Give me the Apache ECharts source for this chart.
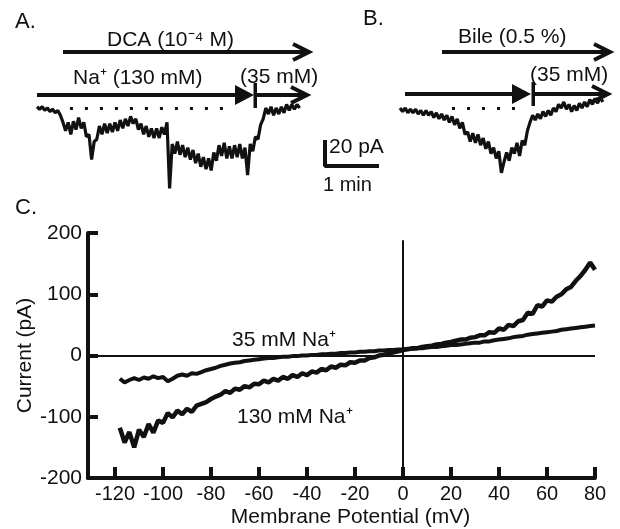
<!DOCTYPE html>
<html><head><meta charset="utf-8">
<script src="https://cdn.jsdelivr.net/npm/echarts@6/dist/echarts.min.js"></script>
<style>html,body{margin:0;padding:0;background:#fff}#c{width:620px;height:529px}</style>
</head><body><div id="c"></div>
<script>
// ---------- Panel C: I-V curves ----------
const potential = [-118,-116,-114,-112,-110,-108,-106,-104,-102,-100,-98,-96,-94,-92,-90,-88,-86,-84,-82,-80,-78,-76,-74,-72,-70,-68,-66,-64,-62,-60,-58,-56,-54,-52,-50,-48,-46,-44,-42,-40,-38,-36,-34,-32,-30,-28,-26,-24,-22,-20,-18,-16,-14,-12,-10,-8,-6,-4,-2,0,2,4,6,8,10,12,14,16,18,20,22,24,26,28,30,32,34,36,38,40,42,44,46,48,50,52,54,56,58,60,62,64,66,68,70,72,74,76,78,80];
const current130 = [-118,-142,-125,-150,-121,-133,-112,-126,-106,-110,-94,-101,-90,-96,-87,-92,-82,-79,-76,-71,-67,-64,-58,-61,-54,-56,-50,-52,-46,-47,-41,-44,-38,-41,-35,-38,-32,-35,-29,-32,-26,-28,-22,-24,-18,-20,-15,-16,-11,-12,-8,-8,-4,-3,0,1,4,5,7,9,10,12,12,14,15,16,18,19,21,22,24,26,26,29,30,33,33,38,37,44,42,50,48,56,58,70,68,82,80,90,88,96,100,108,112,122,130,140,152,140];
const current35 = [-38,-44,-40,-37,-40,-36,-38,-34,-37,-35,-42,-38,-33,-31,-33,-29,-30,-27,-24,-22,-20,-17,-15,-13,-12,-11,-9,-8,-7,-6,-5,-4,-4,-3,-2,-2,-1,-1,0,0,1,1,2,2,3,3,4,4,5,5,6,6,7,7,8,8,9,9,10,10,11,11,12,12,13,14,14,15,16,17,17,18,19,20,21,21,23,23,25,26,27,28,30,31,32,34,35,36,37,38,39,40,42,43,44,45,46,47,48,49];
const xTicks = [-120,-100,-80,-60,-40,-20,0,20,40,60,80];
const yTicks = [-200,-100,0,100,200];

// ---------- Panel A: DCA trace (time s, current pA rel. baseline) ----------
const timeA = [0,3,6,9,12,15,18,21,24,27,30,33,36,39,42,45,48,51,54,57,60,63,66,69,72,75,78,81,84,87,90,93,96,99,102,105,108,111,114,117,120,123,126,129,132,135,138,141,144,147,150,153,156,159,162,165,168,171,174,177,180,183,186,189,192,195,198,201,204,207,210,213,216,219,222,225,228,231,234,237,240,243,246,249,252,255,258,261,264,267,270,273,276,279,282,285,288,291,294,297,300,303];
const currentA = [1,-1,1,-2,0,-3,-1,-4,-2,-6,-12,-19,-12,-22,-11,-18,-8,-17,-12,-24,-22,-43,-28,-26,-15,-22,-13,-21,-13,-20,-12,-19,-10,-17,-9,-15,-7,-13,-9,-18,-13,-22,-15,-24,-17,-25,-17,-25,-16,-22,-12,-67,-30,-38,-28,-39,-31,-41,-33,-43,-35,-46,-38,-49,-41,-51,-42,-52,-37,-44,-31,-40,-29,-42,-32,-42,-31,-41,-30,-42,-33,-56,-30,-36,-24,-26,-14,-9,0,-5,1,-6,0,-5,1,-4,3,-2,3,-1,3,0];
const baselineA = [38, 226];

// ---------- Panel B: Bile trace ----------
const timeB = [0,3,6,9,12,15,18,21,24,27,30,33,36,39,42,45,48,51,54,57,60,63,66,69,72,75,78,81,84,87,90,93,96,99,102,105,108,111,114,117,120,123,126,129,132,135,138,141,144,147,150,153,156,159,162,165,168,171,174,177,180,183,186,189,192,195,198,201,204,207,210,213,216,219,222,225,228,231,234];
const currentB = [0,-3,0,-4,-1,-4,-1,-5,-2,-6,-2,-6,-3,-8,-4,-9,-5,-10,-6,-12,-7,-14,-9,-17,-12,-22,-20,-28,-21,-29,-22,-31,-25,-34,-28,-38,-33,-42,-36,-54,-45,-37,-44,-33,-38,-29,-40,-27,-31,-19,-12,-6,-10,-5,-9,-3,-7,-2,-6,0,-3,3,0,5,-1,3,-3,2,-2,4,0,5,1,7,3,8,4,9,5];
const baselineB = [60, 142];

// scale bar: 20 pA, 1 min
const scalePA = 20, scaleSec = 60;

const FONT = '"Liberation Sans", Arial, Helvetica, sans-serif';
const ink = '#111';
const chart = echarts.init(document.getElementById('c'), null, {renderer: 'canvas'});

function T(x, y, text, size) {
  return {type: 'text', x: x, y: y, silent: true,
    style: {text: text, font: size + 'px ' + FONT, fill: ink, textVerticalAlign: 'middle', verticalAlign: 'middle'}};
}
function L(x1, y1, x2, y2, w) {
  return {type: 'line', silent: true, shape: {x1, y1, x2, y2}, style: {stroke: ink, lineWidth: w || 4}};
}
function chev(pts) {
  return {type: 'polyline', silent: true, shape: {points: pts}, style: {stroke: ink, lineWidth: 4, fill: null}};
}
function tri(pts) {
  return {type: 'polygon', silent: true, shape: {points: pts}, style: {fill: ink}};
}
function R(x, y, w, h) {
  return {type: 'rect', silent: true, shape: {x, y, width: w, height: h}, style: {fill: ink}};
}

const option = {
  animation: false,
  backgroundColor: '#fff',
  grid: [
    {left: 88, right: 25, top: 233, bottom: 51},
    {left: 37, top: 96, width: 262.6, height: 96},
    {left: 400, top: 96, width: 202.8, height: 96},
    {left: 325, top: 142, width: 52, height: 24}
  ],
  xAxis: [
    {gridIndex: 0, type: 'value', min: -131.25, max: 80,
      axisLine: {onZero: false, lineStyle: {color: ink, width: 4}},
      axisTick: {inside: true, length: 11, customValues: xTicks, lineStyle: {color: ink, width: 4}},
      axisLabel: {customValues: xTicks, color: ink, fontSize: 20, fontFamily: FONT, margin: 6},
      splitLine: {show: false},
      name: 'Membrane Potential (mV)', nameLocation: 'middle', nameGap: 29, nameMoveOverlap: false,
      nameTextStyle: {color: ink, fontSize: 21, fontFamily: FONT, padding: [0, 0, 0, 18]}},
    {gridIndex: 1, type: 'value', min: 0, max: 303, show: false},
    {gridIndex: 2, type: 'value', min: 0, max: 234, show: false},
    {gridIndex: 3, type: 'value', min: 0, max: 60, show: false}
  ],
  yAxis: [
    {gridIndex: 0, type: 'value', min: -200, max: 200, interval: 100,
      axisLine: {show: true, onZero: false, lineStyle: {color: ink, width: 4}},
      axisTick: {show: true, inside: true, length: 10, lineStyle: {color: ink, width: 4}},
      axisLabel: {color: ink, fontSize: 21, fontFamily: FONT, margin: 6},
      splitLine: {show: false},
      name: 'Current (pA)', nameLocation: 'middle', nameGap: 52, nameRotate: 90, nameMoveOverlap: false,
      nameTextStyle: {color: ink, fontSize: 21, fontFamily: FONT}},
    {gridIndex: 1, type: 'value', min: -70, max: 10, show: false},
    {gridIndex: 2, type: 'value', min: -70, max: 10, show: false},
    {gridIndex: 3, type: 'value', min: 0, max: 20, show: false}
  ],
  series: [
    {type: 'line', name: '130 mM Na+', xAxisIndex: 0, yAxisIndex: 0, showSymbol: false, symbol: 'none',
      lineStyle: {color: ink, width: 4.5}, data: potential.map((v, i) => [v, current130[i]])},
    {type: 'line', name: '35 mM Na+', xAxisIndex: 0, yAxisIndex: 0, showSymbol: false, symbol: 'none',
      lineStyle: {color: ink, width: 4}, data: potential.map((v, i) => [v, current35[i]]),
      markLine: {silent: true, symbol: ['none', 'none'], label: {show: false},
        lineStyle: {color: ink, width: 2, type: 'solid'},
        data: [{yAxis: 0}, [{coord: [0, -200]}, {coord: [0, 188]}]]}},
    {type: 'line', xAxisIndex: 1, yAxisIndex: 1, showSymbol: false, symbol: 'none',
      lineStyle: {color: ink, width: 3.2}, data: timeA.map((t, i) => [t, currentA[i]]),
      markLine: {silent: true, symbol: ['none', 'none'], label: {show: false},
        lineStyle: {color: ink, width: 3, type: [3, 12]},
        data: [[{coord: [baselineA[0], 0]}, {coord: [baselineA[1], 0]}]]}},
    {type: 'line', xAxisIndex: 2, yAxisIndex: 2, showSymbol: false, symbol: 'none',
      lineStyle: {color: ink, width: 3.2}, data: timeB.map((t, i) => [t, currentB[i]]),
      markLine: {silent: true, symbol: ['none', 'none'], label: {show: false},
        lineStyle: {color: ink, width: 3, type: [3, 12]},
        data: [[{coord: [baselineB[0], 0]}, {coord: [baselineB[1], 0]}]]}},
    {type: 'line', xAxisIndex: 3, yAxisIndex: 3, showSymbol: false, symbol: 'none',
      lineStyle: {color: ink, width: 4, cap: 'square'}, data: [[0, scalePA], [0, 0], [scaleSec, 0]]}
  ],
  graphic: [
    T(15, 22, 'A.', 22), T(363, 19, 'B.', 22), T(15, 208, 'C.', 22),
    T(107, 40, 'DCA (10⁻⁴ M)', 21),
    T(73, 78, 'Na⁺ (130 mM)', 21),
    T(240, 77, '(35 mM)', 21),
    T(458, 37, 'Bile (0.5 %)', 21),
    T(530, 75, '(35 mM)', 21),
    T(329, 147, '20 pA', 21),
    T(323, 185, '1 min', 20),
    T(232, 340, '35 mM Na⁺', 21),
    T(237, 417, '130 mM Na⁺', 21),
    // Panel A arrows
    L(63, 52, 307, 52), chev([[293, 44], [309, 52], [293, 60]]),
    L(37, 95, 238, 95), tri([[235, 85], [254, 95], [235, 105]]), R(253.5, 83, 3.5, 25),
    L(257, 95, 305, 95), chev([[291, 87], [307, 95], [291, 103]]),
    // Panel B arrows
    L(442, 52, 607, 52), chev([[594, 44], [610, 52], [594, 60]]),
    L(405, 94, 515, 94), tri([[512, 84], [531, 94], [512, 104]]), R(531.5, 82, 3.5, 24),
    L(535, 94, 605, 94), chev([[592, 86], [608, 94], [592, 102]])
  ]
};
chart.setOption(option);
</script></body></html>
